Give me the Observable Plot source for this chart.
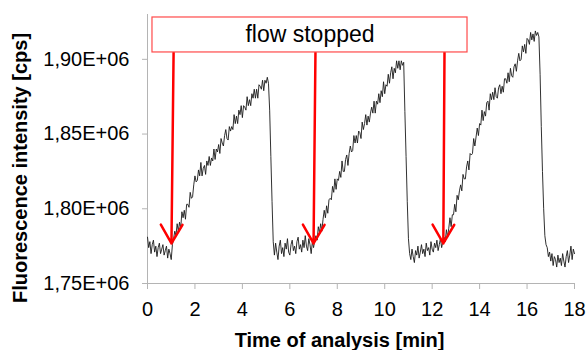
<!DOCTYPE html>
<html><head><meta charset="utf-8">
<script src="https://cdn.jsdelivr.net/npm/d3@7"></script>
<script src="https://cdn.jsdelivr.net/npm/@observablehq/plot@0.6"></script>
<style>body{margin:0;background:#fff}</style>
</head><body><div id="chart"></div>
<script>
// Sampling step of the trace (minutes) and start time of each trace segment
const step = 0.05;
const segStarts = [0, 1.10, 5.15, 5.35, 7.10, 10.85, 11.05, 12.50, 16.55, 16.85];
// Fluorescence intensity values in thousands of cps
const seg0 = [1781,1774,1778,1770,1776,1779,1771,1775,1768,1774,1777,1770,1773,1776,1769,1772,1775,1767,1773,1770,1766,1776];
const seg1 = [1780,1785,1782,1790,1785,1791,1787,1798,1794,1799,1793,1803,1803,1801,1811,1807,1808,1816,1822,1818,1819,1826,1822,1831,1822,1827,1829,1823,1832,1829,1835,1829,1834,1832,1840,1833,1840,1838,1843,1837,1847,1844,1842,1849,1853,1847,1846,1855,1852,1855,1853,1863,1857,1862,1857,1866,1863,1869,1861,1869,1868,1866,1875,1869,1873,1869,1877,1874,1880,1874,1880,1874,1883,1882,1880,1886,1879,1886,1884,1888,1884];
const seg2 = [1866,1835,1805,1778];
const seg3 = [1769,1777,1771,1766,1775,1779,1770,1774,1768,1777,1773,1780,1771,1769,1776,1779,1772,1775,1770,1778,1781,1773,1776,1771,1779,1774,1782,1775,1772,1780,1776,1770,1778,1774,1779];
const seg4 = [1782,1779,1788,1784,1790,1785,1793,1799,1794,1802,1797,1806,1807,1806,1815,1811,1820,1813,1820,1819,1825,1821,1832,1825,1825,1833,1836,1829,1837,1842,1838,1839,1849,1844,1849,1844,1852,1851,1847,1858,1853,1857,1863,1856,1862,1858,1864,1868,1864,1872,1864,1872,1870,1877,1871,1879,1875,1885,1877,1883,1882,1890,1884,1891,1895,1887,1894,1891,1899,1894,1899,1893,1899,1896,1898];
const seg5 = [1865,1835,1805,1780];
const seg6 = [1770,1766,1773,1768,1764,1772,1769,1775,1767,1771,1776,1770,1773,1768,1777,1772,1774,1769,1778,1773,1771,1777,1774,1779,1772,1776,1780,1774,1778];
const seg7 = [1781,1778,1786,1781,1787,1794,1788,1796,1796,1803,1798,1809,1806,1812,1816,1812,1823,1820,1820,1828,1832,1826,1837,1836,1837,1847,1842,1848,1854,1849,1857,1856,1866,1859,1865,1862,1871,1872,1866,1877,1873,1878,1873,1881,1875,1874,1881,1883,1877,1882,1878,1887,1887,1884,1891,1885,1894,1889,1888,1895,1897,1892,1899,1904,1899,1900,1909,1905,1910,1904,1914,1913,1910,1918,1913,1917,1912,1919,1916,1918,1915];
const seg8 = [1890,1855,1825,1800,1782,1776];
const seg9 = [1774,1768,1771,1765,1770,1762,1768,1766,1761,1769,1764,1767,1762,1770,1765,1761,1768,1772,1764,1769,1775,1766,1773,1770];
const segments = [seg0,seg1,seg2,seg3,seg4,seg5,seg6,seg7,seg8,seg9];

// Axes
const xTicks = [0,2,4,6,8,10,12,14,16,18];
const yTicks = [1750000,1800000,1850000,1900000];
const xDomain = [0,18];
const yDomain = [1750000,1930000];
const xTitle = "Time of analysis [min]";
const yTitle = "Fluorescence intensity [cps]";

// Annotation: "flow stopped" box and arrows
const boxLabel = "flow stopped";
const boxX = [0.21, 13.49];
const boxY = [1904600, 1928000];
const arrowTopX = [1.10, 7.08, 12.52];
const arrowTipX = [1.01, 7.00, 12.47];
const arrowTopY = 1904600;
const arrowTipY = 1776800;

const trace = segments.flatMap((s,k) => s.map((v,i) => ({t: segStarts[k] + i*step, v: v*1000})));
const arrows = arrowTopX.map((x,i) => ({x1: x, y1: arrowTopY, x2: arrowTipX[i], y2: arrowTipY}));
const box = {x1: boxX[0], x2: boxX[1], y1: boxY[0], y2: boxY[1], label: boxLabel};
const fmt = d => (d/1e6).toFixed(2).replace(".", ",") + "E+06";

const chart = Plot.plot({
  width: 586, height: 350,
  marginLeft: 147, marginRight: 12, marginTop: 14, marginBottom: 67,
  x: {domain: xDomain},
  y: {domain: yDomain},
  style: {fontFamily: "'Liberation Sans', Arial, sans-serif", background: "#fff", color: "#000"},
  marks: [
    Plot.ruleX([0], {stroke: "#b4b4b4"}),
    Plot.ruleY([1750000], {stroke: "#b4b4b4"}),
    Plot.axisX({ticks: xTicks, tickSize: 6, tickPadding: 12, fontSize: 20, stroke: "#b4b4b4", fill: "#000", label: null}),
    Plot.axisY({ticks: yTicks, tickSize: 5, tickPadding: 13, fontSize: 20, stroke: "#b4b4b4", fill: "#000", tickFormat: fmt, label: null}),
    Plot.line(trace, {x: "t", y: "v", stroke: "#1a1a1a", strokeWidth: 0.9}),
    Plot.arrow(arrows, {x1: "x1", y1: "y1", x2: "x2", y2: "y2", stroke: "#ff0000", strokeWidth: 2.5, headLength: 13, headAngle: 60}),
    Plot.rect([box], {x1: "x1", x2: "x2", y1: "y1", y2: "y2", fill: "#fff", stroke: "#ff4a4a", strokeWidth: 1.2}),
    Plot.text([box], {x: d => (d.x1 + d.x2)/2, y: d => (d.y1 + d.y2)/2, text: "label", fontSize: 23, fill: "#000"}),
    Plot.text([yTitle], {text: d => d, frameAnchor: "left", textAnchor: "middle", lineAnchor: "middle", rotate: -90, dx: -126.5, dy: 19, fontSize: 20, fontWeight: "bold", fill: "#000"}),
    Plot.text([xTitle], {text: d => d, frameAnchor: "bottom", textAnchor: "middle", lineAnchor: "middle", dx: -21.5, dy: 56.6, fontSize: 20, fontWeight: "bold", fill: "#000"})
  ]
});
document.getElementById("chart").appendChild(chart);
</script>
</body></html>
